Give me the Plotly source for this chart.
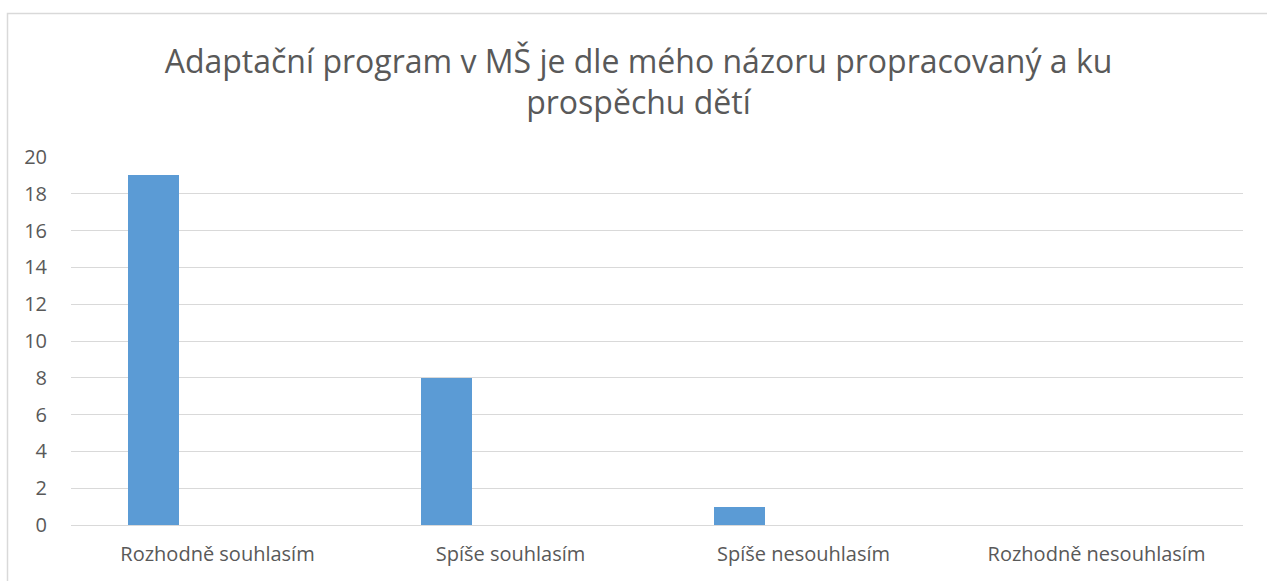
import plotly.graph_objects as go

categories = ["Rozhodně souhlasím", "Spíše souhlasím", "Spíše nesouhlasím", "Rozhodně nesouhlasím"]
values = [19, 8, 1, 0]
title_text = "Adaptační program v MŠ je dle mého názoru propracovaný a ku<br>prospěchu dětí"
y_ticks = [0, 2, 4, 6, 8, 10, 12, 14, 16, 18, 20]

W, H = 1267, 581
L, T = 71, 157
R = W - 1243
B = H - 525
pw, ph = W - L - R, H - T - B

def px_x(x):
    return (x - L) / pw

def px_y(y):
    return 1 - (y - T) / ph

fig = go.Figure()
fig.add_trace(go.Bar(
    x=categories, y=values,
    marker=dict(color="#5b9bd5", line=dict(width=0)),
    width=0.174, offset=-0.307,
    showlegend=False, hoverinfo="x+y",
))

fig.update_layout(
    width=W, height=H,
    margin=dict(l=L, r=R, t=T, b=B),
    paper_bgcolor="white", plot_bgcolor="white",
    font=dict(family="Open Sans", color="#595959", size=20),
    title=dict(text=title_text, x=0.5 + 5 / W, xanchor="center", y=1 - 72.5 / H, yanchor="middle",
               font=dict(size=32, color="#595959", family="Open Sans")),
    bargap=0,
    shapes=[dict(type="rect", xref="paper", yref="paper",
                 x0=px_x(7.5), x1=px_x(1300), y0=px_y(600), y1=px_y(13.5),
                 line=dict(color="#d9d9d9", width=1.5), layer="below")],
)
fig.update_xaxes(showgrid=False, showline=False, ticks="", ticklabelstandoff=15,
                 tickfont=dict(size=20, color="#595959"))
fig.update_yaxes(range=[0, 20], tickvals=y_ticks, showgrid=True, gridcolor="#d9d9d9",
                 gridwidth=1, zeroline=True, zerolinecolor="#d9d9d9", zerolinewidth=1,
                 showline=False, ticks="", ticklabelstandoff=23,
                 tickfont=dict(size=20, color="#595959"))

fig.write_html("out.html", config={"displayModeBar": False},
               post_script="document.body.style.margin='0';")
